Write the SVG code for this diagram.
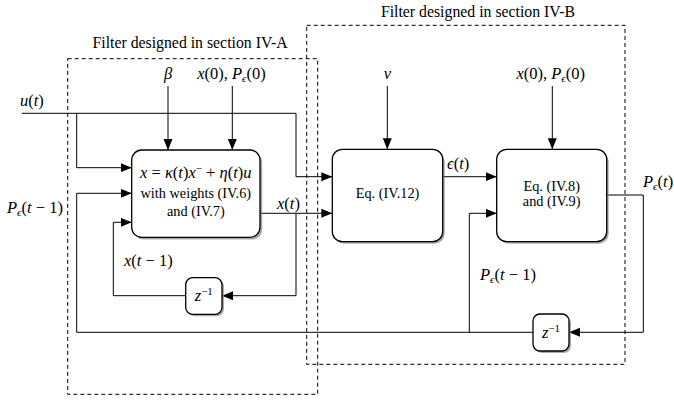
<svg xmlns="http://www.w3.org/2000/svg" width="674" height="401" viewBox="0 0 674 401">
<defs>
<marker id="arr" markerUnits="userSpaceOnUse" markerWidth="12" markerHeight="10" refX="11" refY="4.5" orient="auto"><path d="M0,0 L11,4.5 L0,9 z" fill="#000"/></marker>
<style>
.t{font-family:"Liberation Serif","Times New Roman",serif;fill:#000}
.m{font-family:"Liberation Serif","Times New Roman",serif;font-style:italic;fill:#000;font-size:16.5px}
.n{font-style:normal}
.sub{font-size:11px}
.c{fill:none;stroke:#000;stroke-width:1}
.dash{fill:none;stroke:#000;stroke-width:1;stroke-dasharray:4 3}
.box{fill:#fff;stroke:#000;stroke-width:1.3}
.sh{fill:#888;opacity:0.7}
</style>
</defs>
<rect width="674" height="401" fill="#fff"/>
<g id="sectionA">
<rect class="dash" x="67.7" y="58.7" width="250" height="335.6"/>
<text class="t" x="190" y="48" font-size="15.8" text-anchor="middle">Filter designed in section IV-A</text>
</g>
<g id="sectionB">
<rect class="dash" x="306.7" y="25.3" width="318.3" height="339"/>
<text class="t" x="478" y="17" font-size="15.8" text-anchor="middle">Filter designed in section IV-B</text>
</g>
<g id="connectors">
<path class="c" d="M21.7,113.3 H296 V176.7 H332.3" marker-end="url(#arr)"/>
<path class="c" d="M76.7,113.3 V167.7 H131.7" marker-end="url(#arr)"/>
<path class="c" d="M168,86 V150" marker-end="url(#arr)"/>
<path class="c" d="M232.3,86 V150" marker-end="url(#arr)"/>
<path class="c" d="M260,213.3 H332.3" marker-end="url(#arr)"/>
<path class="c" d="M296,213.3 V295.7 H222" marker-end="url(#arr)"/>
<path class="c" d="M185.7,295.7 H113.3 V222.3 H131.7" marker-end="url(#arr)"/>
<path class="c" d="M533,332.3 H76.7 V193.3 H131.7" marker-end="url(#arr)"/>
<path class="c" d="M469.3,332.3 V213.3 H496.7" marker-end="url(#arr)"/>
<path class="c" d="M387.3,86 V149.3" marker-end="url(#arr)"/>
<path class="c" d="M442.7,176.7 H496.7" marker-end="url(#arr)"/>
<path class="c" d="M552.3,86 V149.3" marker-end="url(#arr)"/>
<path class="c" d="M606.7,195 H643.3 V332.3 H569" marker-end="url(#arr)"/>
</g>
<g id="filterA">
<rect class="sh" x="134" y="152.3" width="128.3" height="87.3" rx="10"/>
<rect class="box" x="131.7" y="150" width="128.3" height="87.3" rx="10"/>
<text class="m" x="195.8" y="178" font-size="15.5" text-anchor="middle">x <tspan class="n">=</tspan> κ<tspan class="n">(</tspan>t<tspan class="n">)</tspan>x<tspan class="n" dy="-6" font-size="11">−</tspan><tspan dy="6"> </tspan><tspan class="n">+</tspan> η<tspan class="n">(</tspan>t<tspan class="n">)</tspan>u</text>
<text class="t" x="195.8" y="198" font-size="14.3" text-anchor="middle">with weights (IV.6)</text>
<text class="t" x="195.8" y="216" font-size="14.3" text-anchor="middle">and (IV.7)</text>
</g>
<g id="delayA">
<rect class="sh" x="187.7" y="279.7" width="36.3" height="36.6" rx="7"/>
<rect class="box" x="185.7" y="277.7" width="36.3" height="36.6" rx="7"/>
<text class="m" x="203.8" y="301" text-anchor="middle">z<tspan class="n" font-size="11" dy="-6">−1</tspan></text>
</g>
<g id="eq12">
<rect class="sh" x="334.3" y="151.3" width="110.4" height="92.4" rx="10"/>
<rect class="box" x="332.3" y="149.3" width="110.4" height="92.4" rx="10"/>
<text class="t" x="387.5" y="198" font-size="14.3" text-anchor="middle">Eq. (IV.12)</text>
</g>
<g id="eq89">
<rect class="sh" x="498.7" y="151.3" width="110" height="92.4" rx="10"/>
<rect class="box" x="496.7" y="149.3" width="110" height="92.4" rx="10"/>
<text class="t" x="551.7" y="191" font-size="14.3" text-anchor="middle">Eq. (IV.8)</text>
<text class="t" x="551.7" y="206" font-size="14.3" text-anchor="middle">and (IV.9)</text>
</g>
<g id="delayB">
<rect class="sh" x="535" y="316" width="36" height="37" rx="7"/>
<rect class="box" x="533" y="314" width="36" height="37" rx="7"/>
<text class="m" x="551" y="338" text-anchor="middle">z<tspan class="n" font-size="11" dy="-6">−1</tspan></text>
</g>
<g id="labels">
<text class="m" x="168" y="79" text-anchor="middle">β</text>
<text class="m" x="231.5" y="79" text-anchor="middle">x<tspan class="n">(0), </tspan>P<tspan class="sub" dy="3">ϵ</tspan><tspan class="n" dy="-3">(0)</tspan></text>
<text class="m" x="387.3" y="79" text-anchor="middle">ν</text>
<text class="m" x="550.7" y="79" text-anchor="middle">x<tspan class="n">(0), </tspan>P<tspan class="sub" dy="3">ϵ</tspan><tspan class="n" dy="-3">(0)</tspan></text>
<text class="m" x="20" y="106">u<tspan class="n">(</tspan>t<tspan class="n">)</tspan></text>
<text class="m" x="7" y="213">P<tspan class="sub" dy="3">ϵ</tspan><tspan class="n" dy="-3">(</tspan>t <tspan class="n">− 1)</tspan></text>
<text class="m" x="277" y="209">x<tspan class="n">(</tspan>t<tspan class="n">)</tspan></text>
<text class="m" x="124" y="266">x<tspan class="n">(</tspan>t <tspan class="n">− 1)</tspan></text>
<text class="m" x="447" y="169">ϵ<tspan class="n">(</tspan>t<tspan class="n">)</tspan></text>
<text class="m" x="643" y="187">P<tspan class="sub" dy="3">ϵ</tspan><tspan class="n" dy="-3">(</tspan>t<tspan class="n">)</tspan></text>
<text class="m" x="480" y="280">P<tspan class="sub" dy="3">ϵ</tspan><tspan class="n" dy="-3">(</tspan>t <tspan class="n">− 1)</tspan></text>
</g>
</svg>
